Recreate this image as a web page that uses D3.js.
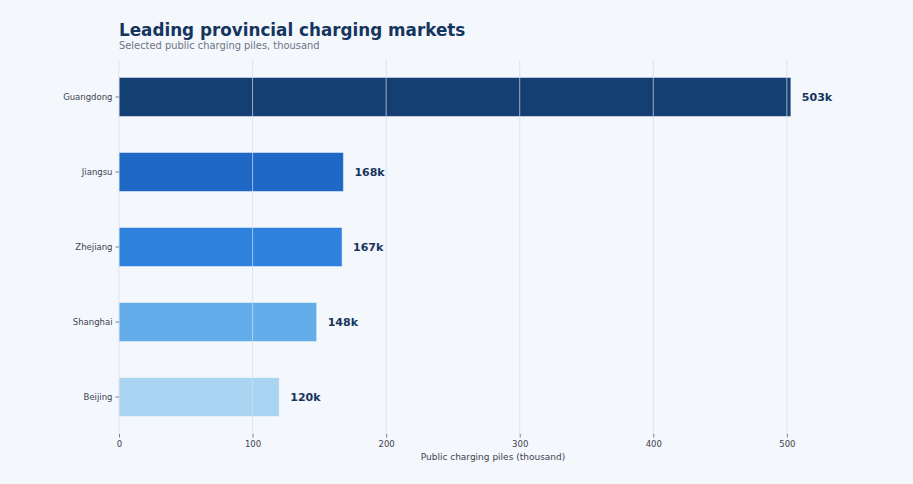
<!DOCTYPE html>
<html>
<head>
<meta charset="utf-8">
<script src="https://cdn.jsdelivr.net/npm/d3@7"></script>
<style>
  html, body { margin: 0; padding: 0; background: #f4f7fc; }
  svg { display: block; font-family: "DejaVu Sans", sans-serif; }
</style>
</head>
<body>
<svg id="chart"></svg>
<script>
// --------------------
// Data
// --------------------
const provinces = ["Guangdong", "Jiangsu", "Zhejiang", "Shanghai", "Beijing"];
const piles = [503, 168, 167, 148, 120];
const barColors = ["#143f73", "#1f67c4", "#2e82dd", "#63aeea", "#aad5f2"];
const xTicks = [0, 100, 200, 300, 400, 500];

const title = "Leading provincial charging markets";
const subtitle = "Selected public charging piles, thousand";
const xLabel = "Public charging piles (thousand)";

// --------------------
// Basic setup
// --------------------
const width = 913;
const height = 484;
const margin = { top: 60, right: 46, bottom: 50, left: 119 };

const svg = d3.select("#chart")
  .attr("width", width)
  .attr("height", height);

svg.append("rect")
  .attr("width", width)
  .attr("height", height)
  .attr("fill", "#f4f7fc");

const x = d3.scaleLinear()
  .domain([0, 560])
  .range([margin.left, width - margin.right]);

const y = d3.scaleBand()
  .domain(provinces)
  .range([margin.top, height - margin.bottom])
  .paddingInner(0.48)
  .paddingOuter(0.233);

const rows = provinces.map((p, i) => ({ name: p, value: piles[i], color: barColors[i] }));

// --------------------
// Bars
// --------------------
svg.append("g")
  .selectAll("rect")
  .data(rows)
  .join("rect")
    .attr("x", x(0))
    .attr("y", d => y(d.name))
    .attr("width", d => x(d.value) - x(0))
    .attr("height", y.bandwidth())
    .attr("fill", d => d.color)
    .attr("stroke", "rgba(255,255,255,0.45)")
    .attr("stroke-width", 1);

// gridlines sit above the bars
svg.append("g")
  .selectAll("line")
  .data(xTicks)
  .join("line")
    .attr("x1", d => x(d))
    .attr("x2", d => x(d))
    .attr("y1", margin.top)
    .attr("y2", height - margin.bottom)
    .attr("stroke", "#d3dceb")
    .attr("stroke-opacity", 0.7)
    .attr("stroke-width", 1);

// --------------------
// Value labels
// --------------------
svg.append("g")
  .selectAll("text")
  .data(rows)
  .join("text")
    .attr("x", d => x(d.value) + 11)
    .attr("y", d => y(d.name) + y.bandwidth() / 2)
    .attr("dy", "0.35em")
    .attr("fill", "#17355c")
    .attr("font-size", 11)
    .attr("font-weight", "bold")
    .text(d => d.value + "k");

// --------------------
// Axes
// --------------------
const xAxis = svg.append("g")
  .attr("transform", `translate(0,${height - margin.bottom})`)
  .call(d3.axisBottom(x).tickValues(xTicks).tickSize(3.5).tickPadding(3));

const yAxis = svg.append("g")
  .attr("transform", `translate(${margin.left},0)`)
  .call(d3.axisLeft(y).tickSize(3.5).tickPadding(3));

[xAxis, yAxis].forEach(g => {
  g.select(".domain").remove();
  g.selectAll(".tick line").attr("stroke", "#5a6270").attr("stroke-width", 0.8);
  g.selectAll(".tick text")
    .attr("fill", "#3c4350")
    .attr("font-size", 8.5)
    .attr("font-family", "DejaVu Sans, sans-serif");
});

svg.append("text")
  .attr("x", (x.range()[0] + x.range()[1]) / 2)
  .attr("y", height - margin.bottom + 26)
  .attr("text-anchor", "middle")
  .attr("fill", "#3c4350")
  .attr("font-size", 9)
  .text(xLabel);

// --------------------
// Titles
// --------------------
svg.append("text")
  .attr("x", margin.left)
  .attr("y", 36)
  .attr("fill", "#14355e")
  .attr("font-size", 16.8)
  .attr("font-weight", "bold")
  .text(title);

svg.append("text")
  .attr("x", margin.left)
  .attr("y", 49)
  .attr("fill", "#6b7585")
  .attr("font-size", 9.9)
  .text(subtitle);
</script>
</body>
</html>
